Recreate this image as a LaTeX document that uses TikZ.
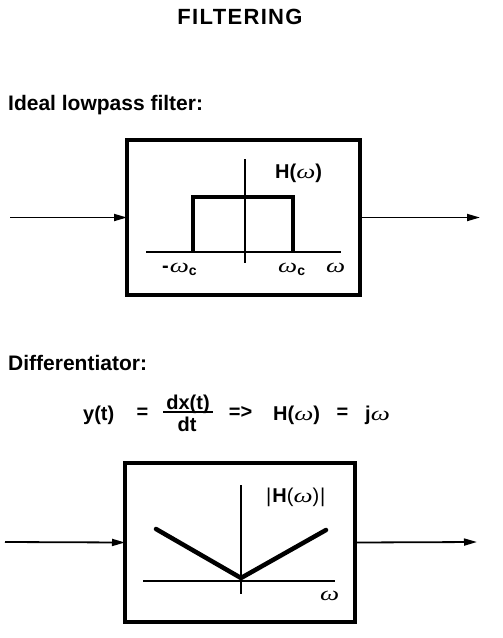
\documentclass[tikz,border=0pt]{standalone}
\usepackage{fontspec}
\setmainfont{Liberation Sans}
\newfontfamily\grkfont{Liberation Serif}
\usetikzlibrary{arrows.meta}
\newcommand{\fsz}[1]{\fontsize{#1}{#1}\selectfont}
\newcommand{\om}{{\mdseries\scalebox{1.35}[1]{\grkfont\itshape ω}}}
\newcommand{\wc}{\om\raisebox{-3.5pt}{\fsz{14}\bfseries c}}
\begin{document}
\begin{tikzpicture}[x=1pt,y=-1pt,font=\bfseries,
  blk/.style={draw,line width=4pt,inner sep=0pt,outer sep=0pt},
  sig/.style={line width=1.8pt,-{Triangle[length=13pt,width=7pt]}},
  ax/.style={line width=2pt},
  curve/.style={line width=4.5pt,line cap=round,line join=round},
  head/.style={font=\bfseries\fsz{21}},
  lab/.style={font=\bfseries\fsz{20},inner sep=0pt},
  eq/.style={font=\bfseries\fsz{20},inner sep=0pt}]
\useasboundingbox (0,0) rectangle (503,638);

% title and headings
\node[font=\bfseries\fsz{22}\addfontfeature{LetterSpace=6},anchor=base,inner sep=0pt] (title) at (240,24) {FILTERING};
\node[head,anchor=base west,inner sep=0pt] (h1) at (8,110) {Ideal lowpass filter:};
\node[head,anchor=base west,inner sep=0pt] (h2) at (8,370) {Differentiator:};

% ---- top block
\node[blk,minimum width=233pt,minimum height=155pt] (boxA) at (243.5,217.5) {};
\coordinate (inA) at (10,217.5);
\coordinate (outA) at (480,217.5);
\draw[sig] (inA) -- (boxA.west);
\draw[sig] (boxA.east) -- (outA);
\draw[ax] (245,159) -- (245,263);
\draw[ax] (146,252) -- (341,252);
\draw[line width=4pt,line join=miter] (193,252) -- (193,197) -- (293,197) -- (293,252);
\node[lab,anchor=base west] (HA) at (275,178) {H(\om)};
\node[lab,anchor=base west] (mwc) at (162,272) {-\kern1pt\wc};
\node[lab,anchor=base west] (pwc) at (278,272) {\wc};
\node[lab,anchor=base west] (wA) at (326,272) {\om};

% ---- equation
\node[eq,anchor=base west] (y) at (83,420) {y(t)};
\node[eq,anchor=base] (eq1) at (142.5,418) {=};
\node[eq,anchor=base] (dx) at (188,409) {dx(t)};
\node[eq,anchor=base] (dt) at (187,431) {dt};
\draw[line width=1.5pt] (163,412) -- (213,412);
\node[eq,anchor=base] (impl) at (240.5,418) {=>};
\node[eq,anchor=base west] (HB) at (273,420) {H(\om)};
\node[eq,anchor=base] (eq2) at (342.5,418) {=};
\node[eq,anchor=base west] (jw) at (365,420) {j\om};

% ---- bottom block
\node[blk,minimum width=230pt,minimum height=159pt] (boxB) at (240,542.5) {};
\coordinate (inB) at (5,542);
\coordinate (outB) at (477,542);
\draw[sig] (inB) -- (boxB.west);
\draw[sig] (boxB.east) -- (outB);
\draw[ax] (241,485) -- (241,594);
\draw[ax] (143,581) -- (335,581);
\draw[curve] (156,529) -- (241,578) -- (326,530);
\node[lab,anchor=base west,font=\fsz{20}] (HabsB) at (266,502) {|\kern1pt{\bfseries H}(\om)\kern1pt|};
\node[lab,anchor=base west] (wB) at (320,600) {\om};
\end{tikzpicture}
\end{document}
